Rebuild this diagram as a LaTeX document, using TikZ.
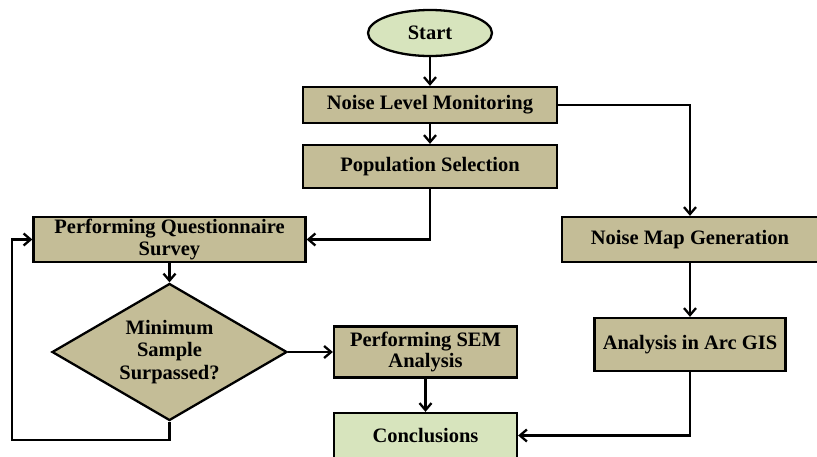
\documentclass[tikz,border=0pt]{standalone}
\usepackage{fontspec}
\setmainfont{Liberation Serif}
\usetikzlibrary{shapes.geometric,arrows.meta}
\definecolor{tanfill}{HTML}{C4BD97}
\definecolor{greenfill}{HTML}{D7E4BD}
\begin{document}
\begin{tikzpicture}[x=1pt,y=-1pt,
  every node/.style={font=\fontsize{20.5}{21.5}\selectfont\bfseries, align=center, inner sep=0pt},
  tanbox/.style={draw=black, line width=2.3pt, fill=tanfill, rectangle},
  greenbox/.style={draw=black, line width=2.3pt, fill=greenfill, rectangle},
  conn/.style={line width=2.3pt, -{Straight Barb[length=7pt,width=12pt,line width=2.3pt]}}]
\useasboundingbox (0,0) rectangle (817,456);
\clip (0,0) rectangle (817,456);
\node[ellipse, draw=black, line width=2.3pt, fill=greenfill, minimum width=124pt, minimum height=46pt] (start) at (430,33) {Start};
\node[tanbox, minimum width=254pt, minimum height=36pt] (nlm) at (430,105) {Noise Level Monitoring};
\node[tanbox, minimum width=254pt, minimum height=43pt] (pop) at (430,166.5) {Population Selection};
\node[tanbox, minimum width=272pt, minimum height=45pt] (pqs) at (169.5,239.5) {Performing Questionnaire\\Survey};
\node[diamond, draw=black, line width=2.3pt, fill=tanfill, shape aspect=1.7, minimum width=235pt, minimum height=137pt] (dia) at (169.5,352) {Minimum\\[1pt]Sample\\[1pt]Surpassed?};
\node[tanbox, minimum width=183pt, minimum height=51pt] (sem) at (425.5,352) {Performing SEM\\Analysis};
\node[greenbox, minimum width=183pt, minimum height=45pt] (conc) at (425.5,435.5) {Conclusions};
\node[tanbox, minimum width=256pt, minimum height=45pt] (nmg) at (690,239.5) {Noise Map Generation};
\node[tanbox, minimum width=191pt, minimum height=53pt] (agis) at (690,344.5) {Analysis in Arc GIS};
\coordinate (lp1) at (169.5,440);
\coordinate (lp2) at (12,440);
\draw[conn] (start) -- (nlm);
\draw[conn] (nlm) -- (pop);
\draw[conn] (pop.south) |- (pqs.east);
\draw[conn] (nlm.east) -| (nmg.north);
\draw[conn] (pqs) -- (dia);
\draw[conn] (dia.south) -- (lp1) -- (lp2) |- (pqs.west);
\draw[conn] (dia.east) -- (sem.west);
\draw[conn] (sem) -- (conc);
\draw[conn] (nmg) -- (agis);
\draw[conn] (agis.south) |- (conc.east);
\end{tikzpicture}
\end{document}
